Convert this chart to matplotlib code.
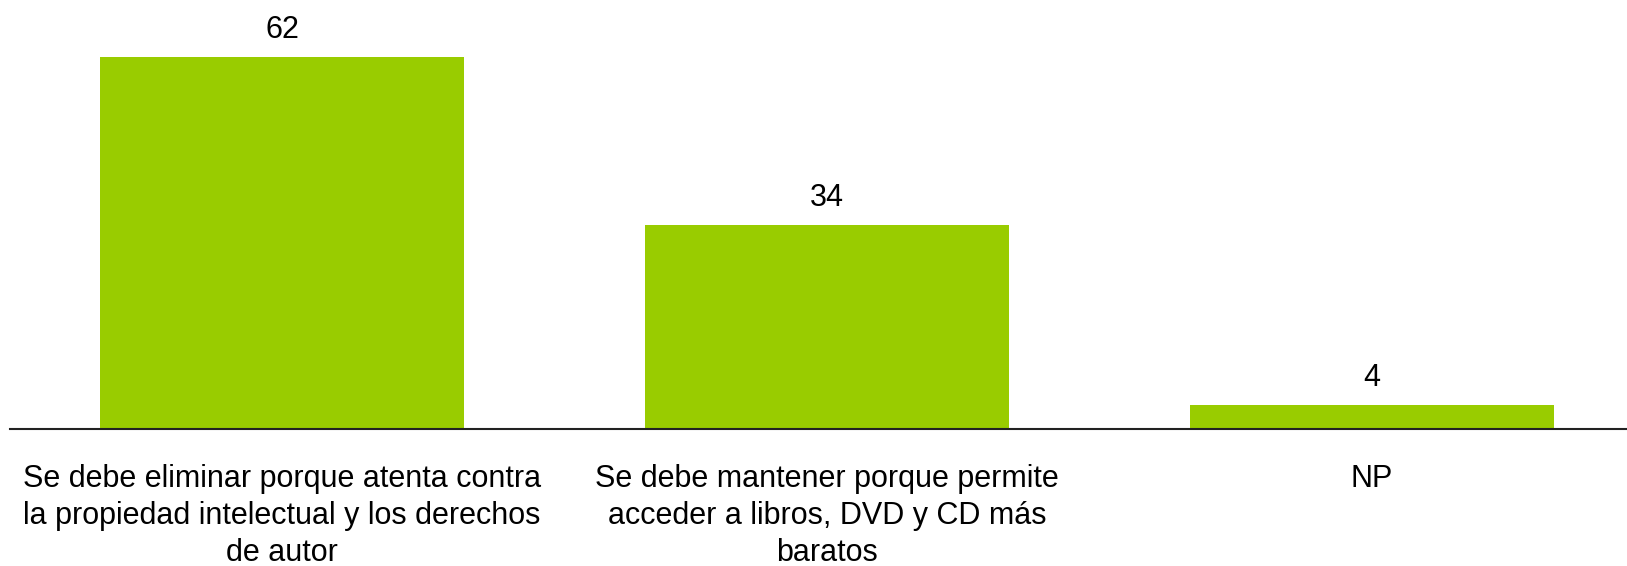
import matplotlib.pyplot as plt
import matplotlib as mpl

mpl.rcParams["font.family"] = ["Liberation Sans", "DejaVu Sans"]

# datos
categorias = [
    "Se debe eliminar porque atenta contra\nla propiedad intelectual y los derechos\nde autor",
    "Se debe mantener porque permite\nacceder a libros, DVD y CD más\nbaratos",
    "NP",
]
valores = [62, 34, 4]

fig = plt.figure(figsize=(16.27, 5.66), dpi=100)
ax = fig.add_axes([10 / 1627, 0.242, 1 - 10 / 1627, 0.758])

x = range(len(categorias))
barras = ax.bar(x, valores, width=0.668, color="#99CC00", zorder=2)

# etiquetas de valor
for b, v in zip(barras, valores):
    ax.annotate(str(v), (b.get_x() + b.get_width() / 2, v),
                xytext=(0, 9), textcoords="offset points",
                ha="center", va="bottom", fontsize=22, color="black")

ax.set_xlim(-0.499, 2.468)
ax.set_ylim(0, 71.5)
ax.set_xticks(list(x))
ax.set_xticklabels(categorias, fontsize=22, linespacing=1.32, va="top")
ax.tick_params(axis="x", length=0, pad=25)
ax.set_yticks([])

for s in ["top", "right", "left"]:
    ax.spines[s].set_visible(False)
ax.spines["bottom"].set_linewidth(1.5)
ax.spines["bottom"].set_color("#222222")
ax.spines["bottom"].set_zorder(3)

fig.savefig("out.png", dpi=100)
